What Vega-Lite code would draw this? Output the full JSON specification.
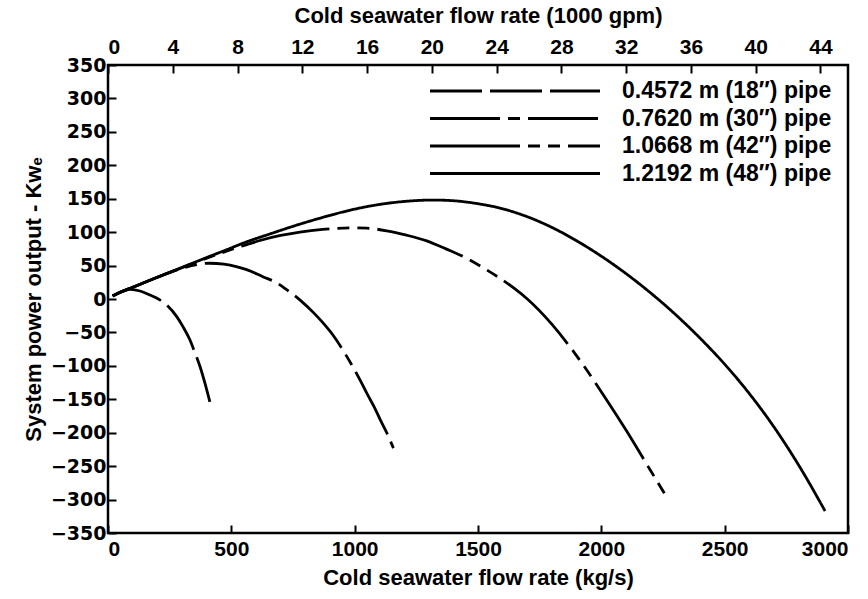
{
  "$schema": "https://vega.github.io/schema/vega-lite/v6.json",
  "autosize": {"type": "none"},
  "padding": {"left": 108, "top": 65, "right": 20, "bottom": 66},
  "width": 740,
  "height": 468,
  "background": "white",
  "config": {
    "view": {"stroke": "black", "strokeWidth": 2.5},
    "axis": {
      "domain": false,
      "grid": false,
      "labelFont": "Liberation Sans",
      "labelFontWeight": "bold",
      "labelFontSize": 21,
      "labelColor": "black",
      "titleFont": "Liberation Sans",
      "titleFontWeight": "bold",
      "titleFontSize": 22,
      "titleColor": "black",
      "tickColor": "black",
      "tickWidth": 2,
      "tickSize": -8
    }
  },
  "layer": [
    {
      "data": {
        "values": [
          {"pipe": "0.4572 m (18″) pipe", "flow": 19, "power": 4.5},
          {"pipe": "0.4572 m (18″) pipe", "flow": 50, "power": 10.5},
          {"pipe": "0.4572 m (18″) pipe", "flow": 90, "power": 14.5},
          {"pipe": "0.4572 m (18″) pipe", "flow": 130, "power": 12},
          {"pipe": "0.4572 m (18″) pipe", "flow": 170, "power": 6},
          {"pipe": "0.4572 m (18″) pipe", "flow": 204, "power": 0},
          {"pipe": "0.4572 m (18″) pipe", "flow": 238, "power": -9},
          {"pipe": "0.4572 m (18″) pipe", "flow": 278, "power": -26},
          {"pipe": "0.4572 m (18″) pipe", "flow": 305, "power": -42},
          {"pipe": "0.4572 m (18″) pipe", "flow": 332, "power": -61},
          {"pipe": "0.4572 m (18″) pipe", "flow": 352, "power": -80},
          {"pipe": "0.4572 m (18″) pipe", "flow": 373, "power": -101},
          {"pipe": "0.4572 m (18″) pipe", "flow": 393, "power": -126},
          {"pipe": "0.4572 m (18″) pipe", "flow": 413, "power": -154},

          {"pipe": "0.7620 m (30″) pipe", "flow": 19, "power": 4.5},
          {"pipe": "0.7620 m (30″) pipe", "flow": 50, "power": 10},
          {"pipe": "0.7620 m (30″) pipe", "flow": 100, "power": 17.5},
          {"pipe": "0.7620 m (30″) pipe", "flow": 200, "power": 32.5},
          {"pipe": "0.7620 m (30″) pipe", "flow": 260, "power": 41},
          {"pipe": "0.7620 m (30″) pipe", "flow": 305, "power": 46.5},
          {"pipe": "0.7620 m (30″) pipe", "flow": 360, "power": 51.5},
          {"pipe": "0.7620 m (30″) pipe", "flow": 413, "power": 53.5},
          {"pipe": "0.7620 m (30″) pipe", "flow": 470, "power": 52},
          {"pipe": "0.7620 m (30″) pipe", "flow": 520, "power": 48.5},
          {"pipe": "0.7620 m (30″) pipe", "flow": 562, "power": 44},
          {"pipe": "0.7620 m (30″) pipe", "flow": 630, "power": 33},
          {"pipe": "0.7620 m (30″) pipe", "flow": 680, "power": 25},
          {"pipe": "0.7620 m (30″) pipe", "flow": 724, "power": 14},
          {"pipe": "0.7620 m (30″) pipe", "flow": 780, "power": -2},
          {"pipe": "0.7620 m (30″) pipe", "flow": 832, "power": -20},
          {"pipe": "0.7620 m (30″) pipe", "flow": 870, "power": -35},
          {"pipe": "0.7620 m (30″) pipe", "flow": 914, "power": -55},
          {"pipe": "0.7620 m (30″) pipe", "flow": 955, "power": -78},
          {"pipe": "0.7620 m (30″) pipe", "flow": 995, "power": -103},
          {"pipe": "0.7620 m (30″) pipe", "flow": 1030, "power": -127},
          {"pipe": "0.7620 m (30″) pipe", "flow": 1055, "power": -145},
          {"pipe": "0.7620 m (30″) pipe", "flow": 1080, "power": -162},
          {"pipe": "0.7620 m (30″) pipe", "flow": 1103, "power": -180},
          {"pipe": "0.7620 m (30″) pipe", "flow": 1130, "power": -200},
          {"pipe": "0.7620 m (30″) pipe", "flow": 1157, "power": -223},

          {"pipe": "1.0668 m (42″) pipe", "flow": 19, "power": 4.5},
          {"pipe": "1.0668 m (42″) pipe", "flow": 50, "power": 10},
          {"pipe": "1.0668 m (42″) pipe", "flow": 100, "power": 17.5},
          {"pipe": "1.0668 m (42″) pipe", "flow": 200, "power": 32.5},
          {"pipe": "1.0668 m (42″) pipe", "flow": 305, "power": 47.5},
          {"pipe": "1.0668 m (42″) pipe", "flow": 400, "power": 61},
          {"pipe": "1.0668 m (42″) pipe", "flow": 500, "power": 74},
          {"pipe": "1.0668 m (42″) pipe", "flow": 560, "power": 81},
          {"pipe": "1.0668 m (42″) pipe", "flow": 616, "power": 87.5},
          {"pipe": "1.0668 m (42″) pipe", "flow": 700, "power": 95},
          {"pipe": "1.0668 m (42″) pipe", "flow": 778, "power": 100},
          {"pipe": "1.0668 m (42″) pipe", "flow": 870, "power": 104},
          {"pipe": "1.0668 m (42″) pipe", "flow": 954, "power": 106},
          {"pipe": "1.0668 m (42″) pipe", "flow": 1000, "power": 106.5},
          {"pipe": "1.0668 m (42″) pipe", "flow": 1049, "power": 106},
          {"pipe": "1.0668 m (42″) pipe", "flow": 1130, "power": 102},
          {"pipe": "1.0668 m (42″) pipe", "flow": 1210, "power": 95.5},
          {"pipe": "1.0668 m (42″) pipe", "flow": 1292, "power": 87},
          {"pipe": "1.0668 m (42″) pipe", "flow": 1370, "power": 75},
          {"pipe": "1.0668 m (42″) pipe", "flow": 1454, "power": 61},
          {"pipe": "1.0668 m (42″) pipe", "flow": 1520, "power": 47},
          {"pipe": "1.0668 m (42″) pipe", "flow": 1589, "power": 31},
          {"pipe": "1.0668 m (42″) pipe", "flow": 1650, "power": 15},
          {"pipe": "1.0668 m (42″) pipe", "flow": 1700, "power": 0},
          {"pipe": "1.0668 m (42″) pipe", "flow": 1800, "power": -38},
          {"pipe": "1.0668 m (42″) pipe", "flow": 1900, "power": -85},
          {"pipe": "1.0668 m (42″) pipe", "flow": 2027, "power": -154},
          {"pipe": "1.0668 m (42″) pipe", "flow": 2100, "power": -196},
          {"pipe": "1.0668 m (42″) pipe", "flow": 2197, "power": -255},
          {"pipe": "1.0668 m (42″) pipe", "flow": 2258, "power": -292},

          {"pipe": "1.2192 m (48″) pipe", "flow": 19, "power": 4.5},
          {"pipe": "1.2192 m (48″) pipe", "flow": 50, "power": 10},
          {"pipe": "1.2192 m (48″) pipe", "flow": 100, "power": 17.5},
          {"pipe": "1.2192 m (48″) pipe", "flow": 200, "power": 32.5},
          {"pipe": "1.2192 m (48″) pipe", "flow": 305, "power": 48},
          {"pipe": "1.2192 m (48″) pipe", "flow": 400, "power": 62},
          {"pipe": "1.2192 m (48″) pipe", "flow": 480, "power": 73.5},
          {"pipe": "1.2192 m (48″) pipe", "flow": 562, "power": 85.5},
          {"pipe": "1.2192 m (48″) pipe", "flow": 650, "power": 96.5},
          {"pipe": "1.2192 m (48″) pipe", "flow": 778, "power": 112},
          {"pipe": "1.2192 m (48″) pipe", "flow": 870, "power": 122},
          {"pipe": "1.2192 m (48″) pipe", "flow": 950, "power": 130},
          {"pipe": "1.2192 m (48″) pipe", "flow": 1040, "power": 137.5},
          {"pipe": "1.2192 m (48″) pipe", "flow": 1130, "power": 143},
          {"pipe": "1.2192 m (48″) pipe", "flow": 1220, "power": 146.5},
          {"pipe": "1.2192 m (48″) pipe", "flow": 1319, "power": 148},
          {"pipe": "1.2192 m (48″) pipe", "flow": 1400, "power": 147},
          {"pipe": "1.2192 m (48″) pipe", "flow": 1500, "power": 142.5},
          {"pipe": "1.2192 m (48″) pipe", "flow": 1589, "power": 136},
          {"pipe": "1.2192 m (48″) pipe", "flow": 1700, "power": 123},
          {"pipe": "1.2192 m (48″) pipe", "flow": 1800, "power": 107},
          {"pipe": "1.2192 m (48″) pipe", "flow": 1900, "power": 87},
          {"pipe": "1.2192 m (48″) pipe", "flow": 2000, "power": 64},
          {"pipe": "1.2192 m (48″) pipe", "flow": 2100, "power": 38},
          {"pipe": "1.2192 m (48″) pipe", "flow": 2200, "power": 9},
          {"pipe": "1.2192 m (48″) pipe", "flow": 2300, "power": -23},
          {"pipe": "1.2192 m (48″) pipe", "flow": 2400, "power": -58.5},
          {"pipe": "1.2192 m (48″) pipe", "flow": 2500, "power": -97.5},
          {"pipe": "1.2192 m (48″) pipe", "flow": 2600, "power": -141.5},
          {"pipe": "1.2192 m (48″) pipe", "flow": 2700, "power": -191.5},
          {"pipe": "1.2192 m (48″) pipe", "flow": 2800, "power": -248.5},
          {"pipe": "1.2192 m (48″) pipe", "flow": 2907, "power": -317}
        ]
      },
      "mark": {"type": "line", "color": "black", "strokeWidth": 2.8, "interpolate": "monotone", "clip": true},
      "encoding": {
        "x": {
          "field": "flow", "type": "quantitative",
          "scale": {"domain": [0, 3000], "nice": false},
          "axis": {
            "orient": "bottom",
            "values": [0, 500, 1000, 1500, 2000, 2500, 3000],
            "format": "d",
            "labelPadding": 13,
            "title": "Cold seawater flow rate (kg/s)",
            "titlePadding": 8
          }
        },
        "y": {
          "field": "power", "type": "quantitative",
          "scale": {"domain": [-350, 350], "nice": false},
          "axis": {
            "values": [-350, -300, -250, -200, -150, -100, -50, 0, 50, 100, 150, 200, 250, 300, 350],
            "format": "d",
            "labelFont": "DejaVu Sans",
            "labelFontSize": 19,
            "labelPadding": 10,
            "title": "System power output - Kwₑ",
            "titlePadding": 5
          }
        },
        "strokeDash": {
          "field": "pipe", "type": "nominal",
          "scale": {
            "domain": ["0.4572 m (18″) pipe", "0.7620 m (30″) pipe", "1.0668 m (42″) pipe", "1.2192 m (48″) pipe"],
            "range": [[52, 8], [70, 8, 12, 8], [90, 8, 12, 8, 12, 8], [1, 0]]
          },
          "legend": {
            "orient": "none",
            "legendX": 310.5,
            "legendY": 14.5,
            "title": null,
            "padding": 0,
            "symbolType": "M0,0H20",
            "symbolSize": 289,
            "symbolStrokeWidth": 2.8,
            "symbolStrokeColor": "black",
            "labelFont": "Liberation Sans",
            "labelFontWeight": "bold",
            "labelFontSize": 23,
            "labelColor": "black",
            "labelLimit": 400,
            "labelOffset": 180.5,
            "rowPadding": 3.5
          }
        }
      }
    },
    {
      "data": {"values": [{"gpm": 0}, {"gpm": 45.7}]},
      "mark": {"type": "point", "opacity": 0},
      "encoding": {
        "x": {
          "field": "gpm", "type": "quantitative",
          "scale": {"domain": [0, 45.7], "nice": false},
          "axis": {
            "orient": "top",
            "values": [0, 4, 8, 12, 16, 20, 24, 28, 32, 36, 40, 44],
            "labelPadding": 16,
            "title": "Cold seawater flow rate (1000 gpm)",
            "titlePadding": 9
          }
        }
      }
    }
  ],
  "resolve": {"scale": {"x": "independent"}, "axis": {"x": "independent"}}
}
